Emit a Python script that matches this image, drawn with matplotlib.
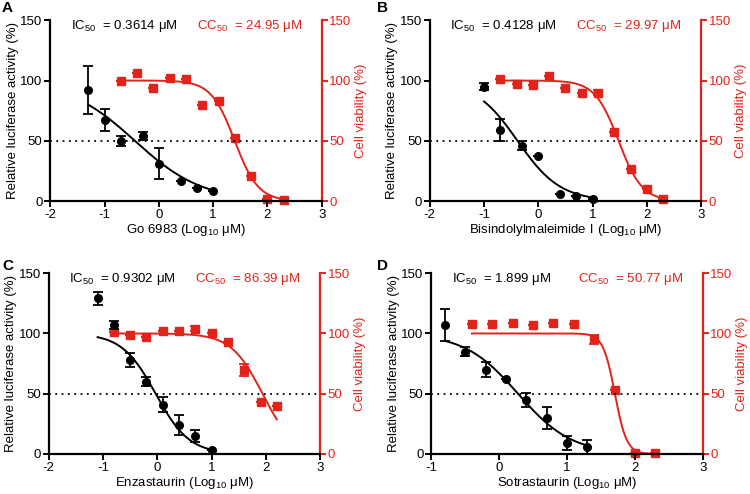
import numpy as np
import matplotlib
matplotlib.use('Agg')
from matplotlib import pyplot as plt

plt.rcParams['font.family'] = ['Liberation Sans', 'DejaVu Sans', 'Noto Sans CJK SC']
plt.rcParams['mathtext.fontset'] = 'custom'
plt.rcParams['mathtext.rm'] = 'Liberation Sans'
plt.rcParams['mathtext.tt'] = 'Noto Sans CJK SC'
plt.rcParams['axes.unicode_minus'] = False
plt.rcParams['font.size'] = 9

RED = '#e2231a'

# ---- data (x in log10 uM, y in %) ----
letters = ['A', 'B', 'C', 'D']
drugs = ['Go 6983', 'Bisindolylmaleimide $\\!\\!\\mathtt{\u2160}\\!\\!$', 'Enzastaurin', 'Sotrastaurin']
ic50 = ['0.3614', '0.4128', '0.9302', '1.899']
cc50 = ['24.95', '29.97', '86.39', '50.77']
xlims = [(-2, 3), (-2, 3), (-2, 3), (-1, 3)]

# luciferase activity (black)
lx_A = [-1.3, -1.0, -0.7, -0.3, 0.0, 0.4, 0.7, 1.0]
ly_A = [92, 67, 50, 54, 31, 17, 11, 8]
le_A = [20, 9, 4, 3, 13, 0, 0, 0]
lx_B = [-1.0, -0.7, -0.3, 0.0, 0.4, 0.7, 1.0]
ly_B = [95, 59, 46, 37, 6, 4, 2]
le_B = [3, 9, 4, 0, 0, 0, 0]
lx_C = [-1.1, -0.8, -0.5, -0.2, 0.1, 0.4, 0.7, 1.0]
ly_C = [129, 107, 78, 60, 41, 24, 15, 3]
le_C = [5, 3, 6, 4, 6, 8, 5, 0]
lx_D = [-0.8, -0.5, -0.2, 0.1, 0.4, 0.7, 1.0, 1.3]
ly_D = [107, 85, 70, 62, 45, 30, 9, 6]
le_D = [13, 4, 6, 0, 6, 9, 6, 6]

# cell viability (red)
vx_A = [-0.7, -0.4, -0.1, 0.2, 0.5, 0.8, 1.1, 1.4, 1.7, 2.0, 2.3]
vy_A = [100, 106, 94, 102, 101, 80, 83, 52, 21, 2, 1]
ve_A = [0] * 11
vx_B = [-0.7, -0.4, -0.1, 0.2, 0.5, 0.8, 1.1, 1.4, 1.7, 2.0, 2.3]
vy_B = [101, 97, 96, 104, 94, 90, 90, 57, 27, 10, 2]
ve_B = [0, 0, 0, 0, 0, 0, 2, 0, 0, 0, 0]
vx_C = [-0.8, -0.5, -0.2, 0.1, 0.4, 0.7, 1.0, 1.3, 1.6, 1.9, 2.2]
vy_C = [101, 99, 97, 102, 102, 104, 100, 93, 70, 43, 40]
ve_C = [0, 0, 0, 0, 0, 2, 0, 0, 5, 0, 0]
vx_D = [-0.4, -0.1, 0.2, 0.5, 0.8, 1.1, 1.4, 1.7, 2.0, 2.3]
vy_D = [108, 108, 109, 107, 109, 108, 95, 53, 1, 1]
ve_D = [0, 0, 0, 0, 0, 0, 4, 0, 0, 0]

# fitted curve parameters (hill slope, x range)
l_hill = [0.7, 1.1, 1.4, 1.1]
v_hill = [2.0, 2.0, 1.5, 5.0]
l_range = [(-1.3, 1.0), (-1.0, 1.0), (-1.1, 1.0), (-0.8, 1.3)]
v_range = [(-0.7, 2.3), (-0.7, 2.3), (-0.8, 2.2), (-0.4, 2.3)]

lum = [(lx_A, ly_A, le_A), (lx_B, ly_B, le_B), (lx_C, ly_C, le_C), (lx_D, ly_D, le_D)]
via = [(vx_A, vy_A, ve_A), (vx_B, vy_B, ve_B), (vx_C, vy_C, ve_C), (vx_D, vy_D, ve_D)]


def hill(x, ec50, h):
    return 100.0 / (1 + 10 ** ((x - np.log10(ec50)) * h))


fig = plt.figure(figsize=(7.5, 4.94), dpi=100)
positions = [(0.067, 0.593), (0.573, 0.593), (0.065, 0.081), (0.575, 0.081)]
letter_pos = [(2, 7.5), (377, 7.5), (2, 266), (377, 266)]
W, H = 0.362, 0.366

for i in range(4):
    ax = fig.add_axes([positions[i][0], positions[i][1], W, H])
    ax2 = ax.twinx()

    # luciferase
    x, y, e = lum[i]
    ax.errorbar(x, y, yerr=e, fmt='o', color='black', ms=5.5, capsize=3.5,
                elinewidth=1.3, capthick=1.3, zorder=5, clip_on=False)
    xs = np.linspace(*l_range[i], 200)
    ax.plot(xs, hill(xs, float(ic50[i]), l_hill[i]), color='black', lw=1.4)
    ax.axhline(50, color='black', ls=(0, (1, 2.5)), lw=1.3)

    # viability
    x, y, e = via[i]
    ax2.errorbar(x, y, yerr=e, fmt='s', color=RED, ms=5.5, capsize=3.5,
                 elinewidth=1.3, capthick=1.3, zorder=5, clip_on=False)
    xs = np.linspace(*v_range[i], 200)
    ax2.plot(xs, hill(xs, float(cc50[i]), v_hill[i]), color=RED, lw=1.4)

    for a in (ax, ax2):
        a.set_xlim(*xlims[i])
        a.set_ylim(0, 150)
        a.set_yticks([0, 50, 100, 150])
        a.spines['top'].set_visible(False)
    ax.set_xticks(range(xlims[i][0], xlims[i][1] + 1))

    for s in ['left', 'bottom']:
        ax.spines[s].set_linewidth(1.6)
    ax.spines['right'].set_visible(False)
    ax2.spines['left'].set_visible(False)
    ax2.spines['bottom'].set_visible(False)
    ax2.spines['right'].set_linewidth(1.6)
    ax2.spines['right'].set_color(RED)
    ax.tick_params(direction='out', length=4, width=1.4, labelsize=9.5, pad=1.5)
    ax2.tick_params(direction='out', length=4, width=1.4, labelsize=9.5,
                    colors=RED, pad=1.5)

    ax.set_ylabel('Relative luciferase activity (%)', fontsize=9.5, labelpad=1)
    ax2.set_ylabel('Cell viability (%)', fontsize=9.5, color=RED, labelpad=2.5)
    ax.set_xlabel(drugs[i] + ' (Log$_{\\mathregular{10}}$ \u03bcM)', fontsize=9.5, labelpad=1)

    ax.text(0.075, 0.97, 'IC$_{\\mathregular{50}}$  = ' + ic50[i] + ' \u03bcM',
            transform=ax.transAxes, fontsize=9.5, va='center', ha='left')
    ax.text(0.54, 0.97, 'CC$_{\\mathregular{50}}$  = ' + cc50[i] + ' \u03bcM',
            transform=ax.transAxes, fontsize=9.5, va='center', ha='left', color=RED)
    ax.set_zorder(ax2.get_zorder() + 1)
    ax.patch.set_visible(False)

    fig.text(letter_pos[i][0] / 750, 1 - letter_pos[i][1] / 494, letters[i],
             fontsize=11, fontweight='bold', va='center', ha='left')

plt.savefig('out.png', dpi=100)
